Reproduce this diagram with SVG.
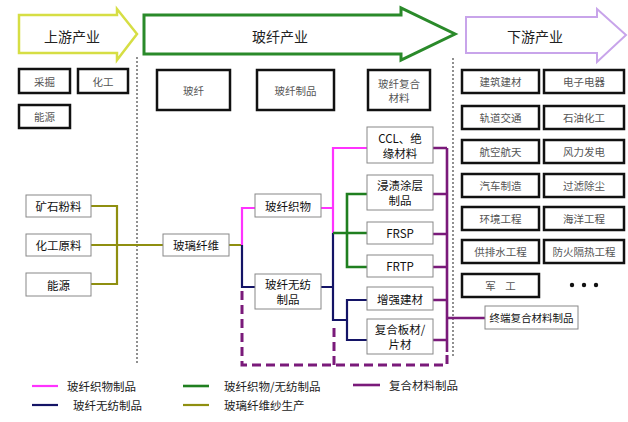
<svg xmlns="http://www.w3.org/2000/svg" width="628" height="422" viewBox="0 0 628 422">
<style>
text{font-family:"Noto Sans CJK SC","Noto Sans",sans-serif;text-anchor:middle;dominant-baseline:central}
.title{font-size:14px;fill:#222}
.hb{fill:#fff;stroke:#111;stroke-width:2.5}
.ht{font-size:10.5px;fill:#555}
.fb{fill:#fff;stroke:#888;stroke-width:1}
.ft{font-size:11.5px;fill:#111}
.lt{font-size:11.5px;fill:#222;text-anchor:start}
.c{fill:none;stroke-width:2.2}
.mg{stroke:#ff33ff}
.nv{stroke:#141466}
.gr{stroke:#1f7f1f;stroke-width:2.6}
.ol{stroke:#8f8f10}
.pu{stroke:#7a1a7a;stroke-width:2.6}
.dash{stroke:#7a1a7a;stroke-width:3;stroke-dasharray:9 5;fill:none}
.dot{stroke:#555;stroke-width:1.3;stroke-dasharray:2 2;fill:none}
</style>

<g id="arrows">
<path d="M19,15 H117 V9 L137,34 L117,60 V53 H19 Z" fill="#fff" stroke="#d6de44" stroke-width="2.5"/>
<text class="title" x="72" y="36">上游产业</text>
<path d="M144,15 H401 V8 L455,34 L401,60 V54 H144 Z" fill="#fff" stroke="#2a8a2a" stroke-width="3"/>
<text class="title" x="280" y="36">玻纤产业</text>
<path d="M466,17 H597 V9 L626,35 L597,62 V53 H466 Z" fill="#fff" stroke="#c8a4ea" stroke-width="2"/>
<text class="title" x="535" y="36">下游产业</text>
</g>

<g id="dividers">
<line class="dot" x1="137" y1="57" x2="137" y2="365"/>
<line class="dot" x1="453" y1="58" x2="453" y2="358"/>
</g>

<g id="upstream">
<g id="u1"><rect class="hb" x="19" y="69" width="51" height="24"/><text class="ht" x="44.5" y="81">采掘</text></g>
<g id="u2"><rect class="hb" x="78" y="69" width="50" height="24"/><text class="ht" x="103" y="81">化工</text></g>
<g id="u3"><rect class="hb" x="19" y="105" width="51" height="23"/><text class="ht" x="44.5" y="116.5">能源</text></g>
</g>

<g id="midheaders">
<g id="m1"><rect class="hb" x="157" y="70" width="73" height="40"/><text class="ht" x="193.5" y="90">玻纤</text></g>
<g id="m2"><rect class="hb" x="257" y="70" width="77" height="40"/><text class="ht" x="295.5" y="90">玻纤制品</text></g>
<g id="m3"><rect class="hb" x="368" y="70" width="62" height="40"/><text class="ht" x="399" y="83">玻纤复合</text><text class="ht" x="399" y="97">材料</text></g>
</g>

<g id="downstream">
<g id="d1"><rect class="hb" x="462" y="70" width="77" height="23"/><text class="ht" x="500.5" y="81.5">建筑建材</text></g>
<g id="d2"><rect class="hb" x="544" y="70" width="80" height="23"/><text class="ht" x="584" y="81.5">电子电器</text></g>
<g id="d3"><rect class="hb" x="462" y="106" width="77" height="23"/><text class="ht" x="500.5" y="117.5">轨道交通</text></g>
<g id="d4"><rect class="hb" x="544" y="106" width="80" height="23"/><text class="ht" x="584" y="117.5">石油化工</text></g>
<g id="d5"><rect class="hb" x="462" y="140" width="77" height="23"/><text class="ht" x="500.5" y="151.5">航空航天</text></g>
<g id="d6"><rect class="hb" x="544" y="140" width="80" height="23"/><text class="ht" x="584" y="151.5">风力发电</text></g>
<g id="d7"><rect class="hb" x="462" y="174" width="77" height="23"/><text class="ht" x="500.5" y="185.5">汽车制造</text></g>
<g id="d8"><rect class="hb" x="544" y="174" width="80" height="23"/><text class="ht" x="584" y="185.5">过滤除尘</text></g>
<g id="d9"><rect class="hb" x="462" y="207" width="77" height="23"/><text class="ht" x="500.5" y="218.5">环境工程</text></g>
<g id="d10"><rect class="hb" x="544" y="207" width="80" height="23"/><text class="ht" x="584" y="218.5">海洋工程</text></g>
<g id="d11"><rect class="hb" x="462" y="240" width="77" height="23"/><text class="ht" x="500.5" y="251.5">供排水工程</text></g>
<g id="d12"><rect class="hb" x="544" y="240" width="80" height="23"/><text class="ht" x="584" y="251.5">防火隔热工程</text></g>
<g id="d13"><rect class="hb" x="462" y="274" width="77" height="23"/><text class="ht" x="500.5" y="285.5" xml:space="preserve">军    工</text></g>
<g id="d14"><circle cx="572" cy="285" r="2.2" fill="#111"/><circle cx="584" cy="285" r="2.2" fill="#111"/><circle cx="596" cy="285" r="2.2" fill="#111"/></g>
</g>

<g id="connectors">
<path class="c ol" d="M91,206 H117 V284 H91 M91,245 H163 M229,245 H242"/>
<path class="c mg" d="M242,245 V208 H255"/>
<path class="c nv" d="M242,245 V287 H255"/>
<path class="c mg" d="M321,208 H333 M333,233 V148 H367"/>
<path class="c nv" d="M321,287 H333 M333,233 V320 H347 M367,300 H347 V340 H367"/>
<path class="c gr" d="M333,233 H367 M367,194 H347 V267 H367"/>
<path class="c pu" d="M433,148 H447 M433,194 H447 M433,234 H447 M433,267 H447 M433,300 H447 M433,340 H447 M447,148 V352 M447,318 H485"/>
<path class="dash" d="M242,291 V365 H447 V350 M334,328 V365"/>
</g>

<g id="flow">
<g id="f1"><rect class="fb" x="26" y="195" width="65" height="22"/><text class="ft" x="58.5" y="206">矿石粉料</text></g>
<g id="f2"><rect class="fb" x="26" y="234" width="65" height="22"/><text class="ft" x="58.5" y="245">化工原料</text></g>
<g id="f3"><rect class="fb" x="26" y="273" width="65" height="23"/><text class="ft" x="58.5" y="284.5">能源</text></g>
<g id="f4"><rect class="fb" x="163" y="234" width="66" height="22"/><text class="ft" x="196" y="245">玻璃纤维</text></g>
<g id="f5"><rect class="fb" x="255" y="194" width="66" height="23"/><text class="ft" x="288" y="205.5">玻纤织物</text></g>
<g id="f6"><rect class="fb" x="255" y="274" width="66" height="35"/><text class="ft" x="288" y="284">玻纤无纺</text><text class="ft" x="288" y="299">制品</text></g>
<g id="f7"><rect class="fb" x="367" y="127" width="66" height="36"/><text class="ft" x="400" y="138">CCL、绝</text><text class="ft" x="400" y="153">缘材料</text></g>
<g id="f8"><rect class="fb" x="367" y="175" width="66" height="35"/><text class="ft" x="400" y="185">浸渍涂层</text><text class="ft" x="400" y="200">制品</text></g>
<g id="f9"><rect class="fb" x="367" y="222" width="66" height="22"/><text class="ft" x="400" y="233">FRSP</text></g>
<g id="f10"><rect class="fb" x="367" y="255" width="66" height="22"/><text class="ft" x="400" y="266">FRTP</text></g>
<g id="f11"><rect class="fb" x="367" y="287" width="66" height="23"/><text class="ft" x="400" y="298.5">增强建材</text></g>
<g id="f12"><rect class="fb" x="367" y="319" width="66" height="35"/><text class="ft" x="400" y="329">复合板材/</text><text class="ft" x="400" y="344">片材</text></g>
<g id="f13"><rect class="fb" x="485" y="306" width="93" height="23"/><text class="ft" x="531.5" y="317.5" style="font-size:10.5px">终端复合材料制品</text></g>
</g>

<g id="legend">
<line x1="32" y1="386" x2="58" y2="386" stroke="#ff33ff" stroke-width="2.2"/>
<text class="lt" x="67" y="386">玻纤织物制品</text>
<line x1="32" y1="405" x2="58" y2="405" stroke="#141466" stroke-width="2.2"/>
<text class="lt" x="73" y="405">玻纤无纺制品</text>
<line x1="183" y1="386" x2="209" y2="386" stroke="#1f7f1f" stroke-width="2.6"/>
<text class="lt" x="224" y="386">玻纤织物/无纺制品</text>
<line x1="183" y1="405" x2="209" y2="405" stroke="#8f8f10" stroke-width="2.2"/>
<text class="lt" x="224" y="405">玻璃纤维纱生产</text>
<line x1="353" y1="385" x2="380" y2="385" stroke="#7a1a7a" stroke-width="2.6"/>
<text class="lt" x="389" y="385">复合材料制品</text>
</g>
</svg>
